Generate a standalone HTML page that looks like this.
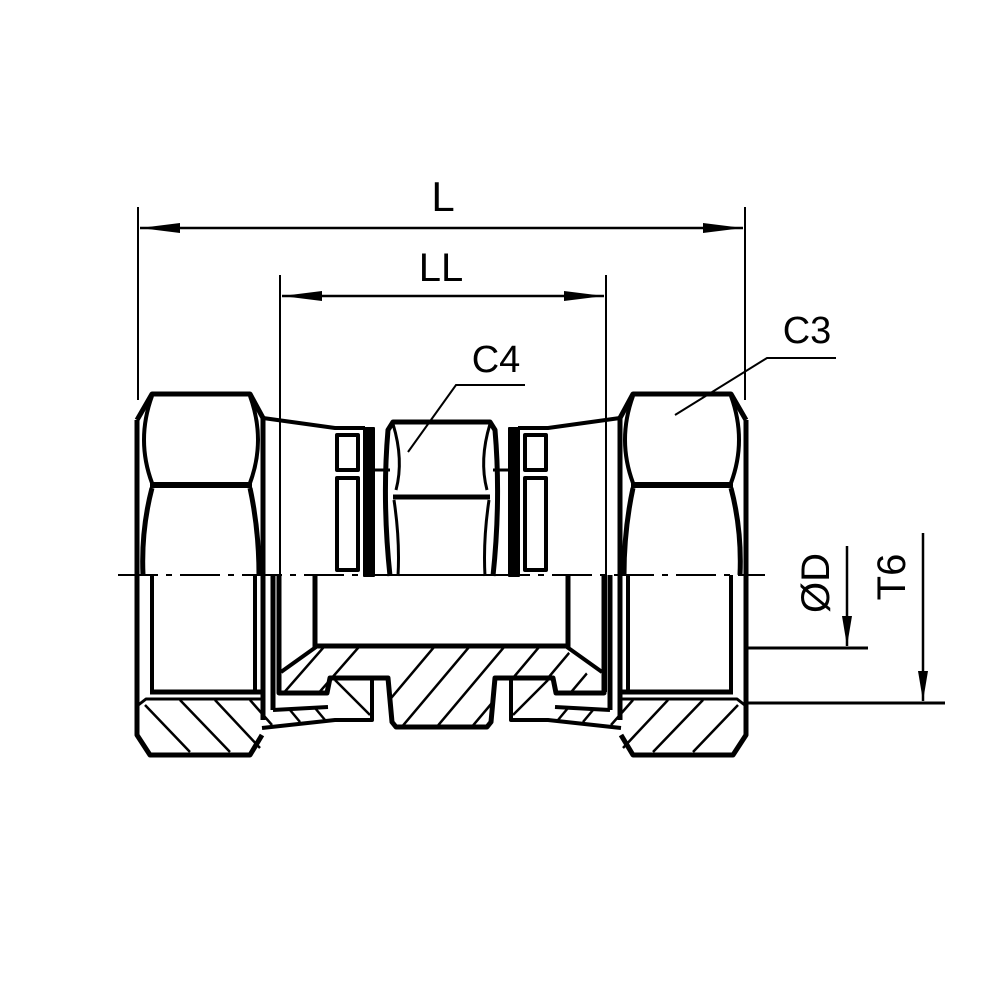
<!DOCTYPE html>
<html><head><style>html,body{margin:0;padding:0;background:#fff}svg{display:block}</style></head>
<body>
<svg width="1000" height="1000" viewBox="0 0 1000 1000" xmlns="http://www.w3.org/2000/svg">
<defs>
<g id="half" fill="none" stroke="#000" stroke-linejoin="round">
  <path d="M137,420 L152,394 L250,394 L263,418 L263,720" stroke-width="5"/>
  <path d="M137,420 L137,735 L150,755 L250,755 L262,735" stroke-width="5"/>
  <line x1="150" y1="485" x2="252" y2="485" stroke-width="6"/>
  <path d="M152,396 Q136,440 152,483" stroke-width="4"/>
  <path d="M250,396 Q266,440 250,483" stroke-width="4"/>
  <path d="M152,488 Q141,530 143,575" stroke-width="5"/>
  <path d="M250,488 Q259,530 259,575" stroke-width="5"/>
  <line x1="152" y1="575" x2="152" y2="692" stroke-width="4"/>
  <line x1="255" y1="575" x2="255" y2="692" stroke-width="4"/>
  <line x1="150" y1="692" x2="262" y2="692" stroke-width="5"/>
  <path d="M137,706 L146,699 L262,699" stroke-width="3"/>
  <g stroke-width="2.5">
    <line x1="145" y1="705" x2="190" y2="752"/>
    <line x1="180" y1="700" x2="230" y2="752"/>
    <line x1="215" y1="700" x2="260" y2="748"/>
    <line x1="250" y1="700" x2="272" y2="725"/>
  </g>
  <path d="M263,418 L335,428 L365,428" stroke-width="4"/>
  <rect x="337" y="435" width="21" height="35" stroke-width="4"/>
  <rect x="337" y="478" width="21" height="92" stroke-width="4"/>
  <rect x="364" y="428" width="10" height="148" fill="#000" stroke-width="2"/>
  <line x1="374" y1="470" x2="390" y2="470" stroke-width="3"/>
  <path d="M442,422 L393,422 L388,430 Q382,500 390,576" stroke-width="5"/>
  <path d="M393,424 Q404,460 396,490" stroke-width="3"/>
  <path d="M394,500 Q400,540 398,576" stroke-width="3"/>
  <line x1="393" y1="497" x2="442" y2="497" stroke-width="5"/>
  <line x1="380" y1="575" x2="442" y2="575" stroke-width="2"/>
  <line x1="273" y1="575" x2="273" y2="710" stroke-width="5"/>
  <line x1="315" y1="575" x2="315" y2="648" stroke-width="5"/>
  <path d="M315,646 L442,646" stroke-width="5"/>
  <path d="M279,575 L279,693 L327,693 L330,678 L388,678 L392,722 L396,727 L442,727" stroke-width="5"/>
  <path d="M281,672 L316,647" stroke-width="4"/>
  <path d="M273,710 L328,707" stroke-width="4"/>
  <path d="M262,728 L335,720 L372,720 L372,678" stroke-width="4"/>
  <g stroke-width="2.5">
    <line x1="335" y1="680" x2="370" y2="715"/>
    <line x1="290" y1="710" x2="300" y2="722"/>
    <line x1="315" y1="708" x2="325" y2="720"/>
  </g>
</g>
<clipPath id="bc">
  <path d="M281,691 L318,648 L565,648 L602,691 L556,691 L553,678 L495,678 L491,722 L487,727 L396,727 L392,722 L388,678 L330,678 L327,691 Z"/>
</clipPath>
<marker id="ar" viewBox="0 0 40 10" refX="40" refY="5" markerWidth="40" markerHeight="10" orient="auto-start-reverse" markerUnits="userSpaceOnUse">
  <path d="M0,0 L40,5 L0,10 Z" fill="#000"/>
</marker>
<marker id="av" viewBox="0 0 30 10" refX="30" refY="5" markerWidth="30" markerHeight="10" orient="auto" markerUnits="userSpaceOnUse">
  <path d="M0,0 L30,5 L0,10 Z" fill="#000"/>
</marker>
</defs>
<use href="#half"/>
<use href="#half" transform="translate(883,0) scale(-1,1)"/>
<g clip-path="url(#bc)" stroke="#000" stroke-width="2.5">
  <line x1="260" y1="720" x2="330" y2="640"/>
  <line x1="295" y1="720" x2="365" y2="640"/>
  <line x1="360" y1="735" x2="440" y2="640"/>
  <line x1="395" y1="735" x2="475" y2="640"/>
  <line x1="430" y1="735" x2="510" y2="640"/>
  <line x1="465" y1="735" x2="545" y2="640"/>
  <line x1="500" y1="735" x2="580" y2="640"/>
  <line x1="535" y1="735" x2="615" y2="640"/>
</g>
<line x1="118" y1="575" x2="765" y2="575" stroke="#000" stroke-width="2" stroke-dasharray="40,8,6,8"/>
<g stroke="#000" stroke-width="2" fill="none">
  <line x1="138" y1="207" x2="138" y2="400"/>
  <line x1="745" y1="207" x2="745" y2="400"/>
  <line x1="140" y1="228" x2="743" y2="228" marker-start="url(#ar)" marker-end="url(#ar)" stroke-width="2.5"/>
  <line x1="280" y1="275" x2="280" y2="692"/>
  <line x1="606" y1="275" x2="606" y2="692"/>
  <line x1="282" y1="296" x2="604" y2="296" marker-start="url(#ar)" marker-end="url(#ar)" stroke-width="2.5"/>
  <path d="M675,415 L767,358 L836,358"/>
  <path d="M408,452 L456,385 L525,385"/>
  <line x1="745" y1="648" x2="868" y2="648" stroke-width="3"/>
  <line x1="847" y1="546" x2="847" y2="646" marker-end="url(#av)" stroke-width="2.5"/>
  <line x1="745" y1="703" x2="945" y2="703" stroke-width="3"/>
  <line x1="923" y1="533" x2="923" y2="701" marker-end="url(#av)" stroke-width="2.5"/>
</g>
<g font-family="Liberation Sans, Arial, sans-serif" fill="#000" text-anchor="middle">
  <text x="443" y="211" font-size="42">L</text>
  <text x="441" y="281" font-size="40">LL</text>
  <text x="807" y="343" font-size="38">C3</text>
  <text x="496" y="372" font-size="38">C4</text>
  <text transform="translate(829,583) rotate(-90)" font-size="40">ØD</text>
  <text transform="translate(905,577) rotate(-90)" font-size="40">T6</text>
</g>
</svg>
</body></html>
